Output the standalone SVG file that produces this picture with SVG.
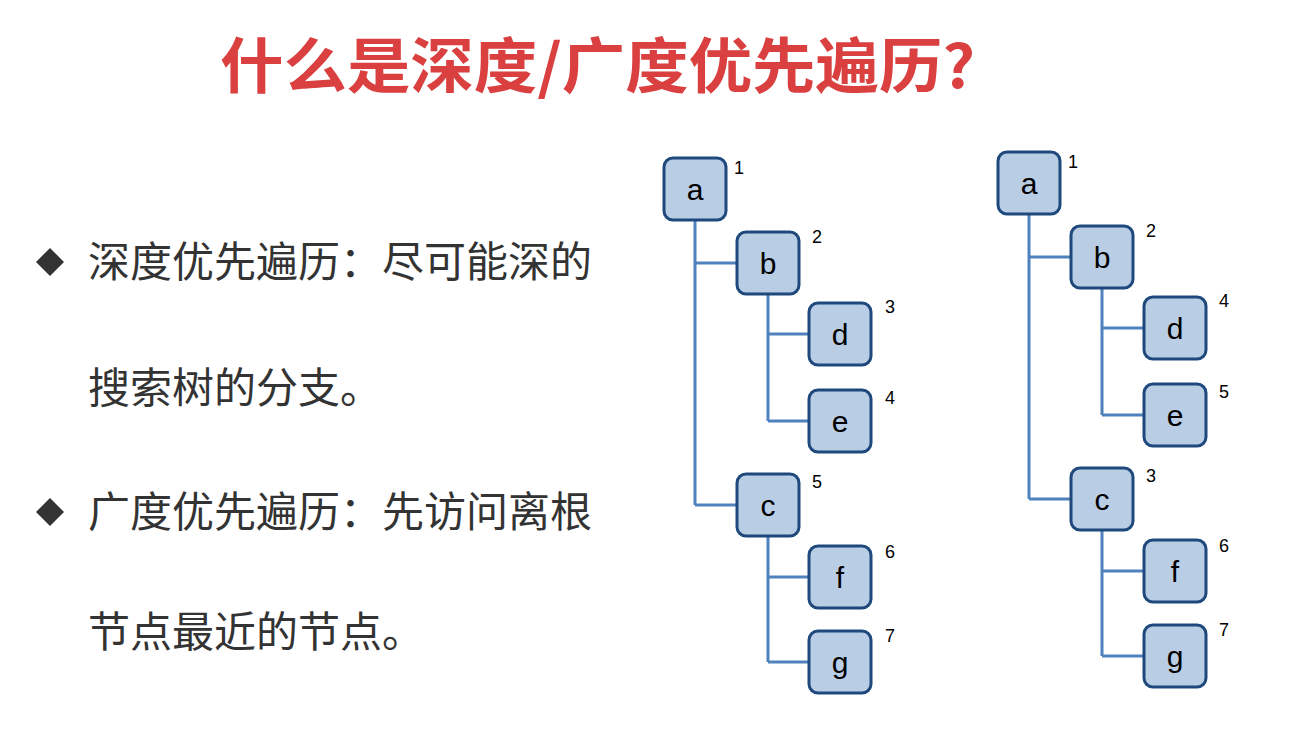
<svg xmlns="http://www.w3.org/2000/svg" width="1290" height="729" viewBox="0 0 1290 729">
<style>
.n rect{fill:#b9cde5;stroke:#1f497d;stroke-width:3}
.n text{font-family:"Liberation Sans",Arial,sans-serif;font-size:30px;fill:#000;text-anchor:middle}
.num{font-family:"Liberation Sans",Arial,sans-serif;font-size:18px;fill:#000}
.c path{fill:none;stroke:#4f81bd;stroke-width:3}
.b{font-family:"Noto Sans CJK SC",sans-serif;font-size:42px;fill:#333}
</style>
<rect width="1290" height="729" fill="#fff"/>
<text x="220" y="88" textLength="755" lengthAdjust="spacingAndGlyphs" font-family="Noto Sans CJK SC,sans-serif" font-weight="bold" font-size="60" fill="#d9403f">什么是深度/广度优先遍历?</text>
<g id="bullets">
<path d="M50 248 L64 262 L50 276 L36 262Z" fill="#333"/>
<path d="M50 498 L64 512 L50 526 L36 512Z" fill="#333"/>
<text class="b" x="88" y="277">深度优先遍历：尽可能深的</text>
<text class="b" x="88" y="403">搜索树的分支。</text>
<text class="b" x="88" y="527">广度优先遍历：先访问离根</text>
<text class="b" x="88" y="647">节点最近的节点。</text>
</g>
<g class="c" id="connectors">
<path d="M695 220V505M695 263H737M695 505H737M768 294V421M768 334H809M768 421H809M768 536V662M768 577H809M768 662H809"/>
<path d="M1029 214V499M1029 257H1071M1029 499H1071M1102 288V415M1102 328H1144M1102 415H1144M1102 530V656M1102 571H1144M1102 656H1144"/>
</g>
<g class="n" id="L_a"><rect x="664" y="158" width="62" height="62" rx="9"/><text x="695" y="200">a</text></g>
<g class="n" id="L_b"><rect x="737" y="232" width="62" height="62" rx="9"/><text x="768" y="274">b</text></g>
<g class="n" id="L_d"><rect x="809" y="303" width="62" height="62" rx="9"/><text x="840" y="345">d</text></g>
<g class="n" id="L_e"><rect x="809" y="390" width="62" height="62" rx="9"/><text x="840" y="432">e</text></g>
<g class="n" id="L_c"><rect x="737" y="474" width="62" height="62" rx="9"/><text x="768" y="516">c</text></g>
<g class="n" id="L_f"><rect x="809" y="546" width="62" height="62" rx="9"/><text x="840" y="588">f</text></g>
<g class="n" id="L_g"><rect x="809" y="631" width="62" height="62" rx="9"/><text x="840" y="673">g</text></g>
<g class="n" id="R_a"><rect x="998" y="152" width="62" height="62" rx="9"/><text x="1029" y="194">a</text></g>
<g class="n" id="R_b"><rect x="1071" y="226" width="62" height="62" rx="9"/><text x="1102" y="268">b</text></g>
<g class="n" id="R_d"><rect x="1144" y="297" width="62" height="62" rx="9"/><text x="1175" y="339">d</text></g>
<g class="n" id="R_e"><rect x="1144" y="384" width="62" height="62" rx="9"/><text x="1175" y="426">e</text></g>
<g class="n" id="R_c"><rect x="1071" y="468" width="62" height="62" rx="9"/><text x="1102" y="510">c</text></g>
<g class="n" id="R_f"><rect x="1144" y="540" width="62" height="62" rx="9"/><text x="1175" y="582">f</text></g>
<g class="n" id="R_g"><rect x="1144" y="625" width="62" height="62" rx="9"/><text x="1175" y="667">g</text></g>
<g id="labels">
<text class="num" x="734" y="174">1</text><text class="num" x="812" y="243">2</text><text class="num" x="885" y="313">3</text><text class="num" x="885" y="404">4</text><text class="num" x="812" y="488">5</text><text class="num" x="885" y="558">6</text><text class="num" x="885" y="642">7</text>
<text class="num" x="1068" y="168">1</text><text class="num" x="1146" y="237">2</text><text class="num" x="1219" y="307">4</text><text class="num" x="1219" y="398">5</text><text class="num" x="1146" y="482">3</text><text class="num" x="1219" y="552">6</text><text class="num" x="1219" y="636">7</text>
</g>
</svg>
